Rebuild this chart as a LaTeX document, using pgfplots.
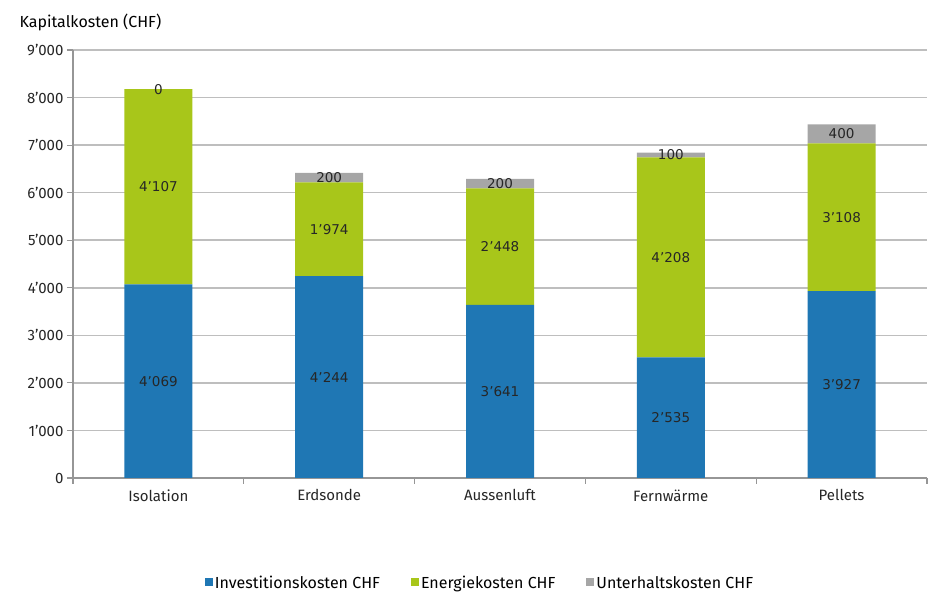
\documentclass[border=0pt]{standalone}
\usepackage{fontspec}
\setmainfont{Fira Sans}
\newfontfamily\lblfont[Ligatures=TeX]{DejaVu Sans}
\usepackage{pgfplots}
\pgfplotsset{compat=1.18}
\definecolor{invest}{RGB}{31,119,180}
\definecolor{energie}{RGB}{168,198,26}
\definecolor{unterhalt}{RGB}{166,166,166}
\definecolor{axisgray}{RGB}{150,150,150}
\definecolor{gridgray}{RGB}{190,190,190}
\pgfplotsset{sqlegend/.style={legend image code/.code={\fill[##1] (0pt,-3.5pt) rectangle (8pt,4.5pt);}}}
\begin{document}
\begin{tikzpicture}
\useasboundingbox (-73pt,-116pt) rectangle (867pt,478pt);
\node[anchor=west, font=\fontsize{16}{18}\selectfont] at (-57pt,456pt) {Kapitalkosten (CHF)};
\begin{axis}[
  at={(0,0)}, anchor=south west,
  scale only axis, width=854pt, height=428pt,
  ybar stacked, bar width=68pt,
  xmin=-0.5, xmax=4.5, ymin=0, ymax=9000,
  xtick={0,...,4},
  xticklabels={Isolation,Erdsonde,Aussenluft,Fernwärme,Pellets},
  minor xtick={-0.5,0.5,...,4.5},
  ytick={0,1000,...,9000},
  axis lines=left,
  axis line style={-, draw=axisgray, line width=1.2pt},
  ymajorgrids, grid style={draw=gridgray, line width=1.5pt},
  tick align=outside, major tick length=6pt, minor tick length=6pt,
  tick style={draw=axisgray, line width=1.2pt},
  major x tick style={draw=none},
  ticklabel style={font=\fontsize{15}{18}\selectfont, text=black!85},
  xticklabel style={yshift=-2pt},
  /pgf/number format/1000 sep={'},
  /pgf/number format/assume math mode=true,
  visualization depends on=rawy \as \rawy,
  nodes near coords={\pgfmathprintnumber[fixed,precision=0,1000 sep={'}]{\rawy}},
  every node near coord/.append style={anchor=center,
    font=\lblfont\fontsize{13.5}{16}\selectfont, text=black!85},
  legend style={at={(0.4766,-0.2453)}, anchor=center, draw=none,
    font=\fontsize{16}{18}\selectfont,
    /tikz/every even column/.append style={column sep=29pt}},
  legend columns=-1,
]
\addplot[fill=invest, draw=none, sqlegend] coordinates {(0,4069) (1,4244) (2,3641) (3,2535) (4,3927)};
\addlegendentry{Investitionskosten CHF}
\addplot[fill=energie, draw=none, sqlegend] coordinates {(0,4107) (1,1974) (2,2448) (3,4208) (4,3108)};
\addlegendentry{Energiekosten CHF}
\addplot[fill=unterhalt, draw=none, sqlegend] coordinates {(0,0.001) (1,200) (2,200) (3,100) (4,400)};
\addlegendentry{Unterhaltskosten CHF}
\end{axis}
\end{tikzpicture}
\end{document}
